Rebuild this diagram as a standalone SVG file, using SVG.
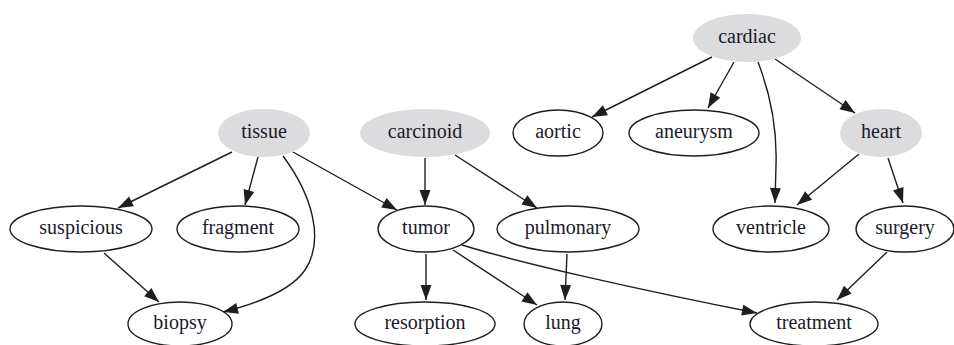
<svg xmlns="http://www.w3.org/2000/svg" width="954" height="345" viewBox="0 0 954 345">
  <style>
    .n ellipse { fill: #ffffff; stroke: #1e1e1e; stroke-width: 1.4; }
    .root ellipse { fill: #dcdcde; stroke: none; }
    text { font-family: "Liberation Serif", "Times New Roman", serif; font-size: 20px; fill: #1a1a2a; text-anchor: middle; }
    .e path { fill: none; stroke: #1e1e1e; stroke-width: 1.4; marker-end: url(#arrow); }
  </style>
  <defs>
    <marker id="arrow" markerUnits="userSpaceOnUse" viewBox="0 0 16 12" markerWidth="16" markerHeight="12" refX="15" refY="6" orient="auto" overflow="visible">
      <path d="M0,0.5 L15,6 L0,11.5 z" fill="#1e1e1e"/>
    </marker>
  </defs>
  <rect width="954" height="345" fill="#ffffff"/>

  <!-- connectors -->
  <g id="edges" class="e">
    <path d="M232,152 L118,208"/>
    <path d="M258,157 L245,205"/>
    <path d="M283,156 C312,195 325,240 305,270 C290,292 255,304 223,312"/>
    <path d="M293,152 L397,210"/>
    <path d="M104,253 L159,302"/>
    <path d="M425,158 L425,205"/>
    <path d="M455,155 L537,208"/>
    <path d="M426,254 L426,300"/>
    <path d="M453,250 L537,305"/>
    <path d="M462,245 C520,263 640,290 757,313"/>
    <path d="M567,254 L565,300"/>
    <path d="M712,57 L592,117"/>
    <path d="M734,62 L708,108"/>
    <path d="M758,62 C772,98 777,135 776,165 L775,203"/>
    <path d="M775,59 L855,113"/>
    <path d="M859,154 L797,205"/>
    <path d="M888,158 L903,203"/>
    <path d="M887,252 L837,300"/>
  </g>

  <!-- nodes -->
  <g id="cardiac" class="n root"><ellipse cx="747" cy="38" rx="54" ry="24"/><text x="747" y="43">cardiac</text></g>
  <g id="tissue" class="n root"><ellipse cx="264" cy="133" rx="46" ry="24"/><text x="264" y="138">tissue</text></g>
  <g id="carcinoid" class="n root"><ellipse cx="425" cy="133" rx="65" ry="24"/><text x="425" y="138">carcinoid</text></g>
  <g id="heart" class="n root"><ellipse cx="881" cy="133" rx="41" ry="24"/><text x="881" y="138">heart</text></g>
  <g id="aortic" class="n"><ellipse cx="558" cy="133" rx="45" ry="23"/><text x="558" y="138">aortic</text></g>
  <g id="aneurysm" class="n"><ellipse cx="694" cy="133" rx="65" ry="23"/><text x="694" y="138">aneurysm</text></g>
  <g id="suspicious" class="n"><ellipse cx="81" cy="229" rx="71" ry="23"/><text x="81" y="234">suspicious</text></g>
  <g id="fragment" class="n"><ellipse cx="238" cy="229" rx="61" ry="23"/><text x="238" y="234">fragment</text></g>
  <g id="tumor" class="n"><ellipse cx="426" cy="229" rx="48" ry="23"/><text x="426" y="234">tumor</text></g>
  <g id="pulmonary" class="n"><ellipse cx="568" cy="229" rx="71" ry="23"/><text x="568" y="234">pulmonary</text></g>
  <g id="ventricle" class="n"><ellipse cx="771" cy="229" rx="58" ry="23"/><text x="771" y="234">ventricle</text></g>
  <g id="surgery" class="n"><ellipse cx="905" cy="229" rx="49" ry="23"/><text x="905" y="234">surgery</text></g>
  <g id="biopsy" class="n"><ellipse cx="180" cy="324" rx="52" ry="22"/><text x="180" y="329">biopsy</text></g>
  <g id="resorption" class="n"><ellipse cx="425" cy="324" rx="70" ry="22"/><text x="425" y="329">resorption</text></g>
  <g id="lung" class="n"><ellipse cx="563" cy="324" rx="39" ry="22"/><text x="563" y="329">lung</text></g>
  <g id="treatment" class="n"><ellipse cx="814" cy="324" rx="64" ry="22"/><text x="814" y="329">treatment</text></g>
</svg>
